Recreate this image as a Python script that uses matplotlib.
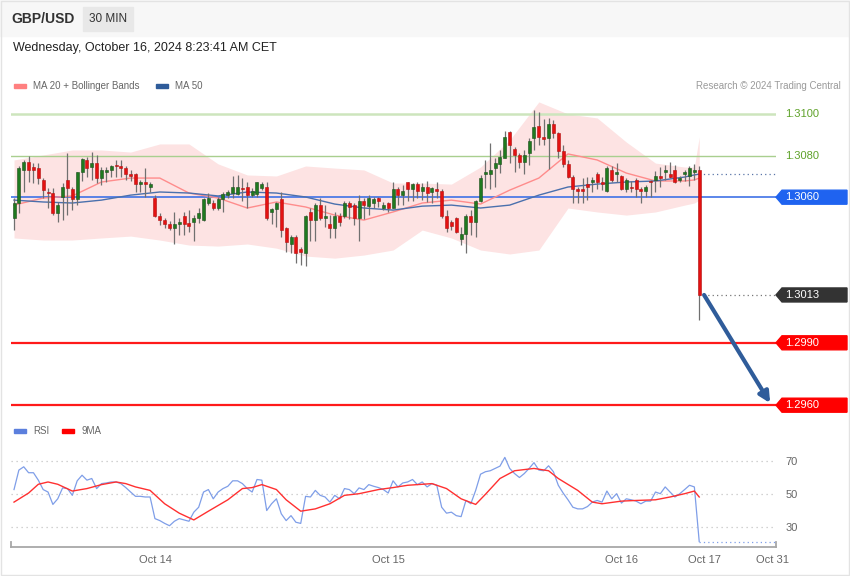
import numpy as np
import matplotlib.pyplot as plt
import matplotlib.transforms as mtransforms
from matplotlib.patches import Polygon, Rectangle

plt.rcParams['font.family'] = ['Liberation Sans', 'DejaVu Sans']

# GBP/USD 30 min candles (Oct 13 evening -> Oct 16 08:00)
opens = [
    1.30501, 1.30571, 1.30731, 1.30771, 1.30744, 1.30742, 1.30681, 1.30627, 1.30619, 1.30522,
    1.30603, 1.30681, 1.30639, 1.30591, 1.30720, 1.30779, 1.30747, 1.30763, 1.30691, 1.30720,
    1.30731, 1.30755, 1.30752, 1.30742, 1.30712, 1.30712, 1.30662, 1.30671, 1.30651, 1.30598,
    1.30511, 1.30490, 1.30471, 1.30454, 1.30471, 1.30510, 1.30476, 1.30479, 1.30501, 1.30490,
    1.30571, 1.30574, 1.30546, 1.30591, 1.30610, 1.30619, 1.30615, 1.30643, 1.30651, 1.30610,
    1.30614, 1.30643, 1.30651, 1.30530, 1.30542, 1.30591, 1.30450, 1.30373, 1.30410, 1.30351,
    1.30330, 1.30530, 1.30490, 1.30562, 1.30501, 1.30469, 1.30450, 1.30511, 1.30511, 1.30571,
    1.30562, 1.30501, 1.30582, 1.30559, 1.30571, 1.30598, 1.30550, 1.30571, 1.30550, 1.30639,
    1.30610, 1.30671, 1.30639, 1.30662, 1.30630, 1.30651, 1.30623, 1.30639, 1.30630, 1.30511,
    1.30479, 1.30498, 1.30399, 1.30421, 1.30511, 1.30479, 1.30582, 1.30710, 1.30710, 1.30739,
    1.30758, 1.30790, 1.30912, 1.30832, 1.30803, 1.30771, 1.30811, 1.30883, 1.30942, 1.30891,
    1.30883, 1.30950, 1.30910, 1.30822, 1.30760, 1.30699, 1.30639, 1.30639, 1.30662, 1.30671,
    1.30710, 1.30671, 1.30630, 1.30731, 1.30710, 1.30700, 1.30639, 1.30651, 1.30683, 1.30639,
    1.30630, 1.30678, 1.30683, 1.30704, 1.30720, 1.30710, 1.30731, 1.30683, 1.30710, 1.30704,
    1.30720, 1.30731]
highs = [
    1.30594, 1.30752, 1.30779, 1.30798, 1.30763, 1.30763, 1.30694, 1.30646, 1.30643, 1.30578,
    1.30667, 1.30811, 1.30651, 1.30723, 1.30790, 1.30795, 1.30816, 1.30803, 1.30747, 1.30747,
    1.30755, 1.30779, 1.30779, 1.30750, 1.30731, 1.30715, 1.30683, 1.30739, 1.30671, 1.30610,
    1.30522, 1.30498, 1.30485, 1.30530, 1.30498, 1.30530, 1.30538, 1.30514, 1.30546, 1.30598,
    1.30619, 1.30587, 1.30603, 1.30627, 1.30635, 1.30704, 1.30707, 1.30691, 1.30675, 1.30643,
    1.30671, 1.30671, 1.30671, 1.30546, 1.30575, 1.30627, 1.30458, 1.30418, 1.30418, 1.30362,
    1.30514, 1.30546, 1.30571, 1.30594, 1.30562, 1.30514, 1.30530, 1.30522, 1.30582, 1.30582,
    1.30571, 1.30610, 1.30594, 1.30610, 1.30603, 1.30603, 1.30578, 1.30578, 1.30671, 1.30651,
    1.30659, 1.30671, 1.30667, 1.30671, 1.30667, 1.30678, 1.30651, 1.30671, 1.30639, 1.30538,
    1.30490, 1.30506, 1.30458, 1.30518, 1.30538, 1.30587, 1.30707, 1.30779, 1.30859, 1.30787,
    1.30827, 1.30918, 1.30918, 1.30843, 1.30811, 1.30827, 1.30883, 1.31019, 1.31011, 1.30976,
    1.30979, 1.30971, 1.30912, 1.30851, 1.30779, 1.30707, 1.30651, 1.30691, 1.30699, 1.30699,
    1.30720, 1.30699, 1.30752, 1.30752, 1.30763, 1.30707, 1.30694, 1.30678, 1.30691, 1.30651,
    1.30659, 1.30683, 1.30726, 1.30747, 1.30755, 1.30771, 1.30755, 1.30704, 1.30731, 1.30752,
    1.30758, 1.30750]
lows = [
    1.30442, 1.30522, 1.30627, 1.30671, 1.30667, 1.30662, 1.30594, 1.30546, 1.30514, 1.30482,
    1.30490, 1.30514, 1.30538, 1.30562, 1.30678, 1.30699, 1.30683, 1.30667, 1.30659, 1.30671,
    1.30699, 1.30699, 1.30699, 1.30683, 1.30678, 1.30627, 1.30627, 1.30603, 1.30627, 1.30506,
    1.30466, 1.30450, 1.30442, 1.30373, 1.30418, 1.30418, 1.30434, 1.30391, 1.30474, 1.30485,
    1.30562, 1.30538, 1.30538, 1.30530, 1.30594, 1.30594, 1.30610, 1.30582, 1.30546, 1.30603,
    1.30603, 1.30635, 1.30490, 1.30469, 1.30458, 1.30410, 1.30338, 1.30330, 1.30282, 1.30274,
    1.30271, 1.30389, 1.30389, 1.30490, 1.30458, 1.30402, 1.30402, 1.30463, 1.30501, 1.30495,
    1.30466, 1.30389, 1.30495, 1.30514, 1.30546, 1.30554, 1.30538, 1.30530, 1.30546, 1.30562,
    1.30562, 1.30582, 1.30582, 1.30594, 1.30587, 1.30575, 1.30571, 1.30594, 1.30501, 1.30434,
    1.30442, 1.30426, 1.30370, 1.30330, 1.30418, 1.30410, 1.30575, 1.30643, 1.30639, 1.30651,
    1.30715, 1.30787, 1.30763, 1.30723, 1.30739, 1.30710, 1.30755, 1.30827, 1.30851, 1.30851,
    1.30736, 1.30883, 1.30787, 1.30747, 1.30691, 1.30571, 1.30571, 1.30571, 1.30587, 1.30627,
    1.30639, 1.30635, 1.30627, 1.30671, 1.30675, 1.30635, 1.30623, 1.30627, 1.30603, 1.30571,
    1.30603, 1.30603, 1.30627, 1.30651, 1.30683, 1.30691, 1.30667, 1.30671, 1.30678, 1.30655,
    1.30683, 1.30010]
closes = [
    1.30571, 1.30742, 1.30771, 1.30731, 1.30731, 1.30691, 1.30635, 1.30619, 1.30522, 1.30562,
    1.30651, 1.30643, 1.30591, 1.30720, 1.30782, 1.30742, 1.30763, 1.30691, 1.30731, 1.30731,
    1.30750, 1.30750, 1.30742, 1.30712, 1.30702, 1.30662, 1.30671, 1.30662, 1.30665, 1.30511,
    1.30490, 1.30471, 1.30454, 1.30471, 1.30482, 1.30471, 1.30462, 1.30501, 1.30522, 1.30591,
    1.30598, 1.30550, 1.30591, 1.30615, 1.30623, 1.30651, 1.30651, 1.30638, 1.30610, 1.30630,
    1.30671, 1.30662, 1.30498, 1.30542, 1.30571, 1.30442, 1.30383, 1.30410, 1.30330, 1.30335,
    1.30510, 1.30490, 1.30562, 1.30501, 1.30511, 1.30450, 1.30511, 1.30479, 1.30571, 1.30554,
    1.30501, 1.30582, 1.30562, 1.30598, 1.30591, 1.30582, 1.30562, 1.30550, 1.30639, 1.30610,
    1.30630, 1.30639, 1.30662, 1.30630, 1.30651, 1.30619, 1.30643, 1.30630, 1.30511, 1.30450,
    1.30463, 1.30431, 1.30421, 1.30511, 1.30479, 1.30582, 1.30691, 1.30723, 1.30731, 1.30763,
    1.30795, 1.30891, 1.30851, 1.30803, 1.30771, 1.30803, 1.30870, 1.30939, 1.30891, 1.30880,
    1.30950, 1.30910, 1.30822, 1.30760, 1.30699, 1.30639, 1.30630, 1.30630, 1.30651, 1.30681,
    1.30671, 1.30662, 1.30742, 1.30683, 1.30720, 1.30639, 1.30683, 1.30643, 1.30639, 1.30630,
    1.30651, 1.30671, 1.30704, 1.30694, 1.30731, 1.30699, 1.30671, 1.30694, 1.30723, 1.30742,
    1.30731, 1.30130]

# indicator readings at a subset of candles
band_idx = [0, 6, 12, 18, 24, 30, 36, 42, 48, 54, 60, 66, 72, 78, 84, 90, 96, 102, 108,
            114, 120, 126, 132, 138, 140, 141]
bb_upper = [1.30779, 1.30803, 1.30827, 1.30827, 1.30817, 1.30856, 1.30856, 1.30760, 1.30707,
            1.30702, 1.30750, 1.30740, 1.30731, 1.30668, 1.30668, 1.30663, 1.30745, 1.30875,
            1.31058, 1.31000, 1.30981, 1.30865, 1.30764, 1.30745, 1.30745, 1.30889]
bb_lower = [1.30404, 1.30394, 1.30394, 1.30404, 1.30413, 1.30394, 1.30370, 1.30365, 1.30375,
            1.30355, 1.30317, 1.30307, 1.30322, 1.30346, 1.30442, 1.30404, 1.30346, 1.30327,
            1.30346, 1.30548, 1.30529, 1.30514, 1.30529, 1.30562, 1.30572, 1.30586]
ma20 = [1.30562, 1.30596, 1.30606, 1.30673, 1.30692, 1.30692, 1.30620, 1.30596, 1.30548,
        1.30577, 1.30553, 1.30514, 1.30490, 1.30529, 1.30572, 1.30586, 1.30567, 1.30634,
        1.30692, 1.30808, 1.30779, 1.30716, 1.30678, 1.30678, 1.30683, 1.30692]
ma50 = [1.30586, 1.30577, 1.30572, 1.30586, 1.30610, 1.30625, 1.30620, 1.30606, 1.30625,
        1.30620, 1.30601, 1.30567, 1.30548, 1.30538, 1.30557, 1.30562, 1.30548, 1.30562,
        1.30610, 1.30649, 1.30663, 1.30673, 1.30678, 1.30697, 1.30707, 1.30711]

rsi = [
    52.7, 64.5, 66.5, 62.9, 62.9, 58.4, 52.7, 51.2, 43.7, 47.1,
    53.7, 53.3, 49.2, 58.0, 61.4, 58.4, 59.4, 53.3, 56.3, 56.7,
    57.3, 57.3, 56.3, 53.9, 51.2, 48.6, 48.6, 48.2, 48.2, 35.1,
    33.9, 32.2, 30.8, 33.5, 35.1, 34.3, 33.5, 39.0, 42.0, 51.2,
    52.7, 47.1, 51.2, 53.3, 54.7, 58.0, 58.0, 56.3, 53.3, 51.2,
    58.8, 58.4, 40.0, 44.1, 47.1, 38.0, 33.9, 36.9, 32.9, 32.2,
    48.6, 48.2, 52.2, 49.2, 48.2, 45.1, 49.2, 47.1, 53.3, 52.7,
    50.2, 53.7, 52.7, 55.7, 54.7, 53.9, 52.7, 50.6, 58.0, 54.3,
    56.7, 57.3, 58.8, 55.7, 57.3, 54.3, 56.3, 55.3, 42.0, 38.4,
    39.0, 36.9, 36.3, 46.1, 44.1, 52.2, 62.0, 63.5, 64.1, 65.5,
    66.9, 72.2, 65.5, 62.4, 60.0, 62.4, 65.5, 69.0, 64.5, 64.1,
    67.1, 63.5, 55.3, 50.6, 46.5, 42.0, 41.0, 41.0, 42.4, 45.1,
    46.1, 45.1, 51.8, 47.1, 50.2, 44.5, 47.1, 46.5, 45.7, 44.1,
    45.7, 45.7, 51.2, 50.2, 54.3, 51.2, 48.2, 50.2, 52.7, 55.3,
    54.3, 21.2]
ma9_idx = [0, 3, 5, 7, 9, 12, 15, 18, 21, 23, 25, 28, 31, 34, 37, 40, 44, 47, 49, 51, 54,
           56, 59, 62, 65, 68, 71, 75, 78, 81, 86, 89, 92, 95, 97, 100, 103, 107, 110, 112,
           116, 119, 121, 125, 128, 132, 135, 138, 140, 141]
rsi_ma9 = [45.1, 50.6, 55.9, 57.3, 55.9, 51.8, 53.3, 55.7, 57.3, 56.3, 54.3, 52.2, 44.1,
           38.4, 34.3, 39.6, 46.5, 53.3, 53.9, 55.7, 52.7, 46.5, 39.6, 41.0, 44.1, 49.2,
           50.2, 52.7, 53.9, 55.3, 56.3, 53.3, 47.1, 43.7, 49.8, 59.4, 64.1, 65.5, 64.1,
           59.4, 52.2, 45.1, 44.1, 45.7, 46.1, 46.5, 48.2, 50.2, 51.8, 48.2]

prev_close = 1.3071
last_price = 1.3013
res_levels = [1.3100, 1.3080]
piv_level = 1.3060
sup_levels = [1.2990, 1.2960]
target = (155.6, 1.2961)

tick_pos = [29, 77, 125, 142, 156]
tick_labels = ['Oct 14', 'Oct 15', 'Oct 16', 'Oct 17', 'Oct 31']
rsi_levels = [30, 50, 70]

W, H = 850, 576
fig = plt.figure(figsize=(W / 100, H / 100), dpi=100)


def fx(px):
    return px / W


def fy(py):
    return 1 - py / H


# header
fig.patches.append(Rectangle((0, fy(36)), 1, 36 / H, transform=fig.transFigure,
                             color='#f7f7f7', zorder=0))
fig.patches.append(Rectangle((fx(83), fy(31)), 50 / W, 24 / H, transform=fig.transFigure,
                             color='#e8e8e8', zorder=1))
fig.patches.append(Rectangle((0.0008, 0.001), 0.998, 0.997, transform=fig.transFigure,
                             fill=False, edgecolor='#e3e3e3', lw=1, zorder=1))
fig.text(fx(11), fy(19), 'GBP/USD', fontsize=10, fontweight='bold', color='#333333', va='center')
fig.text(fx(108), fy(19), '30 MIN', fontsize=8.5, color='#333333', va='center', ha='center')
fig.text(fx(13), fy(48), 'Wednesday, October 16, 2024 8:23:41 AM CET', fontsize=9,
         color='#222222', va='center')

# legends
def legend_item(x, y, color, label):
    fig.patches.append(Rectangle((fx(x), fy(y + 2)), 12 / W, 4 / H, transform=fig.transFigure,
                                 color=color))
    fig.text(fx(x + 19), fy(y), label, fontsize=7, color='#666666', va='center')


legend_item(14, 86, '#ff8080', 'MA 20 + Bollinger Bands')
legend_item(156, 86, '#2f5c9a', 'MA 50')
fig.text(fx(841), fy(86), 'Research \u00a9 2024 Trading Central', fontsize=7, color='#9a9a9a',
         va='center', ha='right')
legend_item(14, 431, '#5b7fdd', 'RSI')
legend_item(62, 431, '#ff0000', '9MA')

xlim = (-0.62, 156.8)

# price panel
ax = fig.add_axes([fx(11), fy(415), 765 / W, 317 / H])
ax.set_xlim(*xlim)
ax.set_ylim(1.295529, 1.310769)
ax.axis('off')

ax.fill_between(band_idx, bb_lower, bb_upper, color='#fde3e3', lw=0, zorder=1)
ax.plot(band_idx, ma20, color='#ff8c8c', lw=1, zorder=2)
ax.plot(band_idx, ma50, color='#4a70ad', lw=1, zorder=2)

ax.axhline(res_levels[0], color='#cde5bd', lw=1.8, zorder=1.5)
ax.axhline(res_levels[1], color='#a9cf8f', lw=1.0, zorder=1.5)
ax.axhline(piv_level, color='#3f72e6', lw=1.2, zorder=1.5)
for lv in sup_levels:
    ax.axhline(lv, color='#ff1a1a', lw=1.6, zorder=1.5)

x = np.arange(len(closes))
o = np.array(opens)
c = np.array(closes)
up = c >= o
ax.vlines(x, lows, highs, color='#707070', lw=0.9, zorder=3)
ax.bar(x, np.maximum(np.abs(c - o), 0.00003), bottom=np.minimum(o, c), width=0.62,
       color=np.where(up, '#1f7a1f', '#e41111'), edgecolor=np.where(up, '#1d4d1d', '#b01010'),
       linewidth=0.4, zorder=4)

ax.hlines(prev_close, x[-1], xlim[1], color='#5a75a8', lw=0.9, linestyles=(0, (1, 2.5)), zorder=2)
ax.hlines(last_price, x[-1], xlim[1], color='#777777', lw=0.9, linestyles=(0, (1, 2.5)), zorder=2)

ax.annotate('', xy=target, xytext=(x[-1] + 1, last_price),
            arrowprops=dict(arrowstyle='-|>', color='#2f5c9a', lw=3, mutation_scale=16,
                            shrinkA=0, shrinkB=0), zorder=5)

# right hand price tags
trans = mtransforms.blended_transform_factory(ax.transAxes, ax.transData)
tip = 6 / 765
right = (847 - 11) / 765
half = 7 / 20800
tx = (785 - 11) / 765


def tag(price, color):
    poly = Polygon([(1.0, price), (1.0 + tip, price + half), (right, price + half),
                    (right, price - half), (1.0 + tip, price - half)], closed=True,
                   transform=trans, color=color, clip_on=False, zorder=6)
    ax.add_patch(poly)
    ax.text(tx, price, f'{price:.4f}', transform=trans, color='white', fontsize=8,
            va='center', ha='left', zorder=7)


for lv in res_levels:
    ax.text(tx, lv, f'{lv:.4f}', transform=trans, color='#5fa22a', fontsize=8,
            va='center', ha='left')
tag(piv_level, '#1f63f0')
tag(last_price, '#333333')
for lv in sup_levels:
    tag(lv, '#ff0000')

# RSI panel
ax2 = fig.add_axes([fx(11), fy(547), 765 / W, 102 / H])
ax2.set_xlim(*xlim)
ax2.set_ylim(17.9, 79.7)
for lv in rsi_levels:
    ax2.axhline(lv, color='#c4c4c4', lw=0.9, linestyle=(0, (1, 3)), zorder=1)
ax2.plot(x, rsi, color='#7f9ee8', lw=0.9, zorder=3)
ax2.plot(ma9_idx, rsi_ma9, color='#ff3030', lw=1.0, zorder=4)
ax2.hlines(rsi[-1], x[-1], xlim[1], color='#7f9ee8', lw=0.9, linestyles=(0, (1, 2.5)), zorder=3)

for s in ['top', 'left', 'right']:
    ax2.spines[s].set_visible(False)
ax2.spines['bottom'].set_color('#a8a8a8')
ax2.spines['bottom'].set_linewidth(1.3)
ax2.plot([0, 0], [0, 0.05], transform=ax2.transAxes, color='#a8a8a8', lw=1.3, clip_on=False)
ax2.plot([1, 1], [0, 0.05], transform=ax2.transAxes, color='#a8a8a8', lw=1.3, clip_on=False)
ax2.set_xticks(tick_pos, tick_labels)
ax2.tick_params(axis='x', length=0, pad=6, labelsize=8, labelcolor='#666666')
ax2.yaxis.tick_right()
ax2.set_yticks(rsi_levels, [str(v) for v in rsi_levels])
ax2.tick_params(axis='y', length=0, pad=7, labelsize=8, labelcolor='#666666')

fig.savefig('out.png', dpi=100)
